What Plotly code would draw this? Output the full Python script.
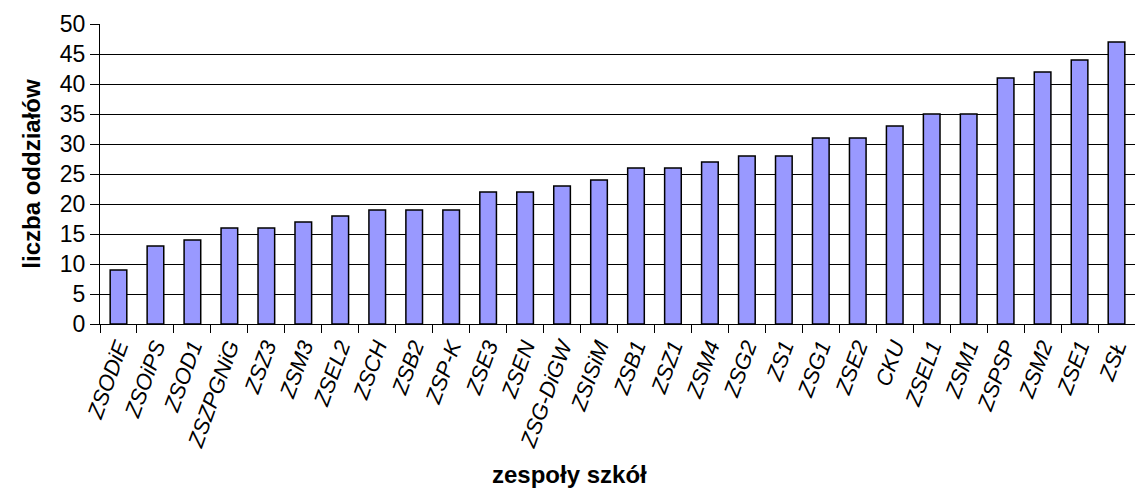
import plotly.graph_objects as go

szkoly = ["ZSODiE", "ZSOiPS", "ZSOD1", "ZSZPGNiG", "ZSZ3", "ZSM3", "ZSEL2", "ZSCH",
          "ZSB2", "ZSP-K", "ZSE3", "ZSEN", "ZSG-DiGW", "ZSISiM", "ZSB1", "ZSZ1",
          "ZSM4", "ZSG2", "ZS1", "ZSG1", "ZSE2", "CKU", "ZSEL1", "ZSM1",
          "ZSPSP", "ZSM2", "ZSE1", "ZSŁ"]
oddzialy = [9, 13, 14, 16, 16, 17, 18, 19, 19, 19, 22, 22, 23, 24, 26, 26,
            27, 28, 28, 31, 31, 33, 35, 35, 41, 42, 44, 47]
y_ticks = [0, 5, 10, 15, 20, 25, 30, 35, 40, 45, 50]

fig = go.Figure(go.Bar(
    x=szkoly, y=oddzialy,
    marker=dict(color="#9999FF", line=dict(color="black", width=1.5)),
))

fig.update_layout(
    width=1135, height=494,
    margin=dict(l=100, r=0, t=24, b=170),
    paper_bgcolor="white", plot_bgcolor="white",
    bargap=0.55,
    showlegend=False,
    font=dict(family="Liberation Sans, Arial", color="black"),
)
fig.update_xaxes(
    tickangle=-70,
    tickfont=dict(size=22, style="italic"),
    ticks="outside", ticklen=8, tickcolor="black", tickson="boundaries",
    showline=True, linecolor="black", linewidth=1,
)
fig.update_yaxes(
    range=[0, 50], tickvals=y_ticks,
    tickfont=dict(size=23),
    ticks="outside", ticklen=9, tickcolor="black",
    showline=True, linecolor="black", linewidth=1,
    showgrid=True, gridcolor="black", gridwidth=1,
    zeroline=False,
    title=dict(text="<b>liczba oddziałów</b>", font=dict(size=24), standoff=12),
)
fig.add_annotation(
    text="<b>zespoły szkół</b>", font=dict(size=24),
    xref="paper", yref="paper", x=0.454, y=-0.5,
    showarrow=False, xanchor="center", yanchor="middle",
)

fig.write_html("out.html", config={"displayModeBar": False},
               post_script="document.body.style.margin = '0';")
